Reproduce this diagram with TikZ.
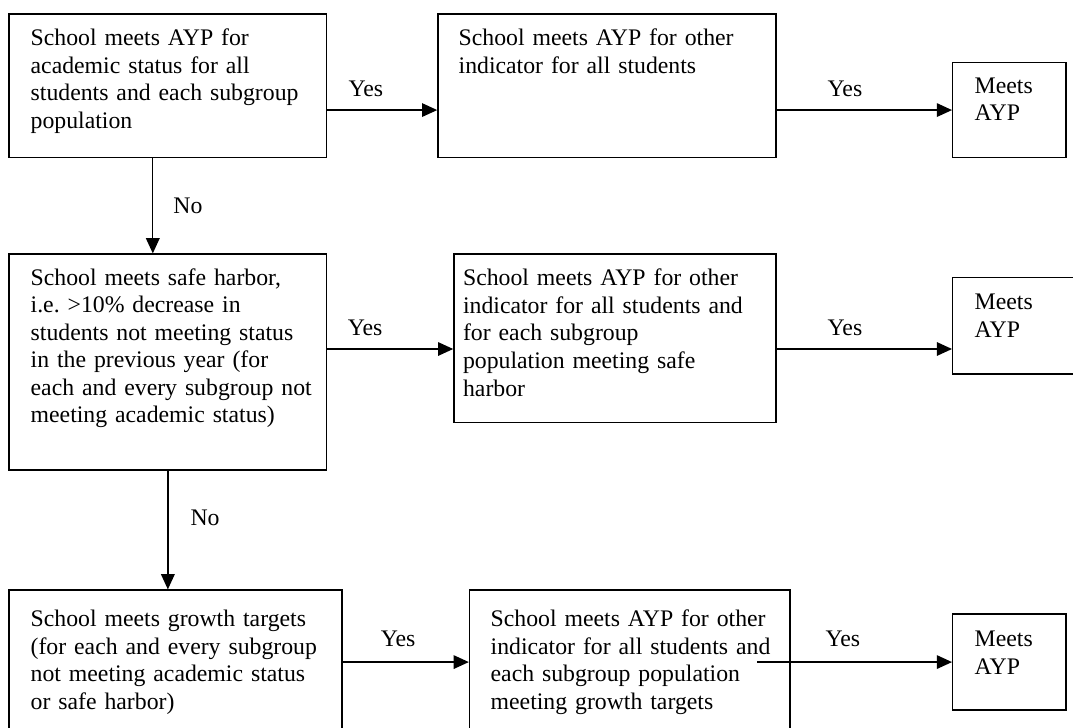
\documentclass[tikz,border=0pt]{standalone}
\usepackage{fontspec}
\setmainfont{Liberation Serif}
\usetikzlibrary{arrows.meta}

\newcommand{\flowfont}{\fontsize{16.9}{19.6}\selectfont\frenchspacing}

\tikzset{
    stepbox/.style={draw,anchor=north west,inner sep=0pt},
    steptext/.style={anchor=base west,align=left,text width=9cm,
        inner sep=0pt,font=\flowfont},
    answer/.style={font=\flowfont,inner sep=0pt}
}

\begin{document}
\begin{tikzpicture}[>={Triangle[length=3.8mm,width=3.4mm]},x=1cm,y=1cm,line width=0.95pt]
    \clip (0,0) rectangle (26.825,18.175);

    % first row: academic status
    \node[stepbox,minimum width=7.94cm,minimum height=3.59cm] (acad) at (0.21,17.84) {};
    \node[stepbox,minimum width=8.45cm,minimum height=3.59cm] (acadother) at (10.93,17.84) {};
    \node[stepbox,minimum width=2.83cm,minimum height=2.38cm] (meets1) at (23.80,16.63) {};
    \node[steptext] (acadtxt) at (0.75,17.03)
        {School meets AYP for\\academic status for all\\
         students and each subgroup\\population};
    \node[steptext] (acadothertxt) at (11.45,17.03)
        {School meets AYP for other\\indicator for all students};
    \node[steptext] (meets1txt) at (24.35,15.84) {Meets\\AYP};

    % second row: safe harbor
    \node[stepbox,minimum width=7.94cm,minimum height=5.40cm] (harbor) at (0.21,11.84) {};
    \node[stepbox,minimum width=8.05cm,minimum height=4.21cm] (harborother) at (11.33,11.84) {};
    \node[stepbox,minimum width=3.45cm,minimum height=2.42cm] (meets2) at (23.80,11.26) {};
    \node[steptext] (harbortxt) at (0.75,11.05)
        {School meets safe harbor,\\i.e. >10\% decrease in\\
         students not meeting status\\in the previous year (for\\
         each and every subgroup not\\meeting academic status)};
    \node[steptext] (harborothertxt) at (11.56,11.03)
        {School meets AYP for other\\indicator for all students and\\
         for each subgroup\\population meeting safe\\harbor};
    \node[steptext] (meets2txt) at (24.35,10.43) {Meets\\AYP};

    % third row: growth targets
    \node[stepbox,minimum width=8.32cm,minimum height=3.77cm] (growth) at (0.21,3.44) {};
    \node[stepbox,minimum width=8.01cm,minimum height=3.77cm] (growthother) at (11.72,3.44) {};
    \node[stepbox,minimum width=2.83cm,minimum height=2.40cm] (meets3) at (23.80,2.84) {};
    \node[steptext] (growthtxt) at (0.75,2.51)
        {School meets growth targets\\(for each and every subgroup\\
         not meeting academic status\\or safe harbor)};
    \node[steptext] (growthothertxt) at (12.25,2.51)
        {School meets AYP for other\\indicator for all students and\\
         each subgroup population\\meeting growth targets};
    \node[steptext] (meets3txt) at (24.35,2.01) {Meets\\AYP};

    \coordinate (nocol) at (3.82,0);
    \coordinate (row2) at (0,9.45);
    \coordinate (row3start) at (18.93,0);

    \draw[->] (acad.east |- meets1.west) -- (acadother.west |- meets1.west)
        node[answer,anchor=base,pos=0.35,yshift=0.35cm] {Yes};
    \draw[->] (acadother.east |- meets1.west) -- (meets1.west)
        node[answer,anchor=base,pos=0.39,yshift=0.35cm] {Yes};
    \draw[->] (acad.south -| nocol) -- (harbor.north -| nocol)
        node[answer,anchor=base west,pos=0.58,xshift=0.5cm] {No};

    \draw[->] (harbor.east |- row2) -- (harborother.west |- row2)
        node[answer,anchor=base,pos=0.30,yshift=0.35cm] {Yes};
    \draw[->] (harborother.east |- row2) -- (meets2.west |- row2)
        node[answer,anchor=base,pos=0.39,yshift=0.35cm] {Yes};
    \draw[->] (harbor.south) -- (growth.north -| harbor.south)
        node[answer,anchor=base west,pos=0.46,xshift=0.55cm] {No};

    \draw[->] (growth.east |- meets3.west) -- (growthother.west |- meets3.west)
        node[answer,anchor=base,pos=0.44,yshift=0.40cm] {Yes};
    \draw[->] (meets3.west -| row3start) -- (meets3.west)
        node[answer,anchor=base,pos=0.44,yshift=0.40cm] {Yes};
\end{tikzpicture}
\end{document}
